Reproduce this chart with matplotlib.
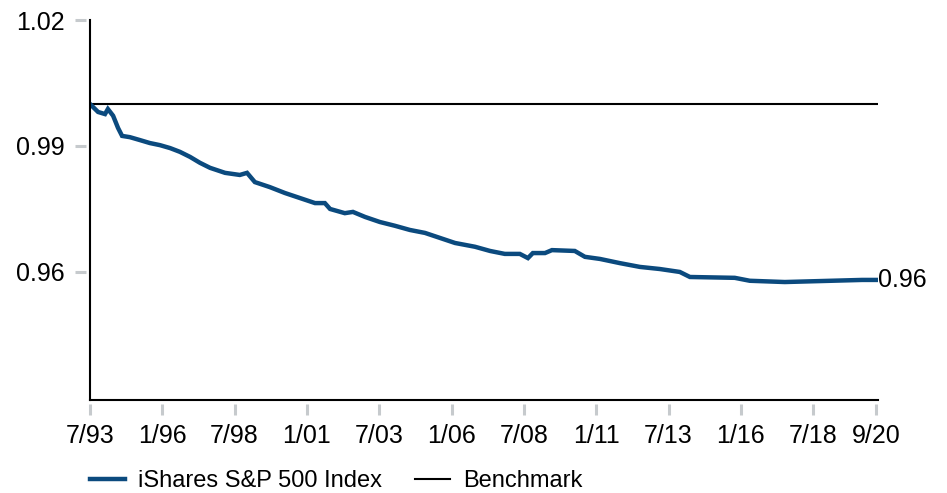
import matplotlib

matplotlib.use("Agg")
import matplotlib.pyplot as plt
from matplotlib.lines import Line2D

# growth of $1 relative to benchmark, decimal year -> ratio
dates = [
    1993.50, 1993.78, 1994.02, 1994.12, 1994.30, 1994.47, 1994.61, 1994.88,
    1995.23, 1995.57, 1995.92, 1996.27, 1996.61, 1996.96, 1997.30, 1997.65,
    1998.17, 1998.68, 1998.93, 1999.20, 1999.72, 2000.24, 2000.76, 2001.28,
    2001.62, 2001.80, 2002.31, 2002.59, 2003.01, 2003.52, 2004.04, 2004.56,
    2005.08, 2005.60, 2006.12, 2006.81, 2007.33, 2007.84, 2008.36, 2008.64,
    2008.81, 2009.23, 2009.47, 2010.26, 2010.61, 2011.13, 2011.82, 2012.51,
    2013.20, 2013.89, 2014.24, 2015.79, 2016.31, 2017.52, 2020.19, 2020.67,
]
fund = [
    1.0000, 0.9981, 0.9976, 0.9988, 0.9972, 0.9943, 0.9924, 0.9921,
    0.9914, 0.9907, 0.9902, 0.9895, 0.9886, 0.9874, 0.9860, 0.9848,
    0.9836, 0.9831, 0.9836, 0.9814, 0.9802, 0.9788, 0.9776, 0.9764,
    0.9764, 0.9750, 0.9740, 0.9743, 0.9731, 0.9719, 0.9710, 0.9700,
    0.9693, 0.9681, 0.9669, 0.9660, 0.9650, 0.9643, 0.9643, 0.9633,
    0.9645, 0.9645, 0.9652, 0.9650, 0.9636, 0.9631, 0.9621, 0.9612,
    0.9607, 0.9600, 0.9588, 0.9586, 0.9579, 0.9576, 0.9581, 0.9581,
]
benchmark = 1.0

xtick_pos = [1993.5, 1996.0, 1998.5, 2001.0, 2003.5, 2006.0, 2008.5,
             2011.0, 2013.5, 2016.0, 2018.5, 2020.67]
xtick_labels = ["7/93", "1/96", "7/98", "1/01", "7/03", "1/06", "7/08",
                "1/11", "7/13", "1/16", "7/18", "9/20"]
ytick_pos = [0.96, 0.99, 1.02]
ytick_labels = ["0.96", "0.99", "1.02"]

BLUE = "#0b4a7e"
TICK_GREY = "#c6cacd"
FS = 18

plt.rcParams["font.family"] = ["Liberation Sans", "DejaVu Sans"]

fig = plt.figure(figsize=(9.47, 4.93), dpi=100)
ax = fig.add_axes([0.0950, 0.1886, 0.8321, 0.7708])

x0, x1 = 1993.5, 2020.74
y0, y1 = 0.9295, 1.02
ax.set_xlim(x0, x1)
ax.set_ylim(y0, y1)

ax.axhline(benchmark, color="black", lw=1.5, zorder=2)
ax.plot(dates, fund, color=BLUE, lw=3.2, solid_joinstyle="miter", zorder=3)
ax.text(dates[-1] + 0.08, fund[-1], f"{fund[-1]:.2f}", fontsize=FS,
        va="center", ha="left", clip_on=False)

# black axis lines; the spines are pushed out so the grey ticks sit apart
ax.axvline(x0, color="black", lw=1.5, clip_on=False, zorder=4)
ax.axhline(y0, color="black", lw=1.5, clip_on=False, zorder=4)
for side in ["top", "right"]:
    ax.spines[side].set_visible(False)
for side in ["left", "bottom"]:
    ax.spines[side].set_position(("outward", 3))
    ax.spines[side].set_color("none")

ax.set_xticks(xtick_pos, xtick_labels)
ax.set_yticks(ytick_pos, ytick_labels)
ax.tick_params(axis="both", colors=TICK_GREY, length=8, width=2.2,
               labelsize=FS, labelcolor="black")
ax.tick_params(axis="x", pad=6)
ax.tick_params(axis="y", pad=7)

handles = [Line2D([], [], color=BLUE, lw=3.2),
           Line2D([], [], color="black", lw=1.5)]
fig.legend(handles, ["iShares S&P 500 Index", "Benchmark"],
           loc="center left", bbox_to_anchor=(0.0955, 0.024), ncol=2,
           frameon=False, fontsize=17, handlelength=1.48, handletextpad=0.55,
           columnspacing=1.4, borderpad=0, borderaxespad=0)

fig.savefig("out.png", dpi=100)
